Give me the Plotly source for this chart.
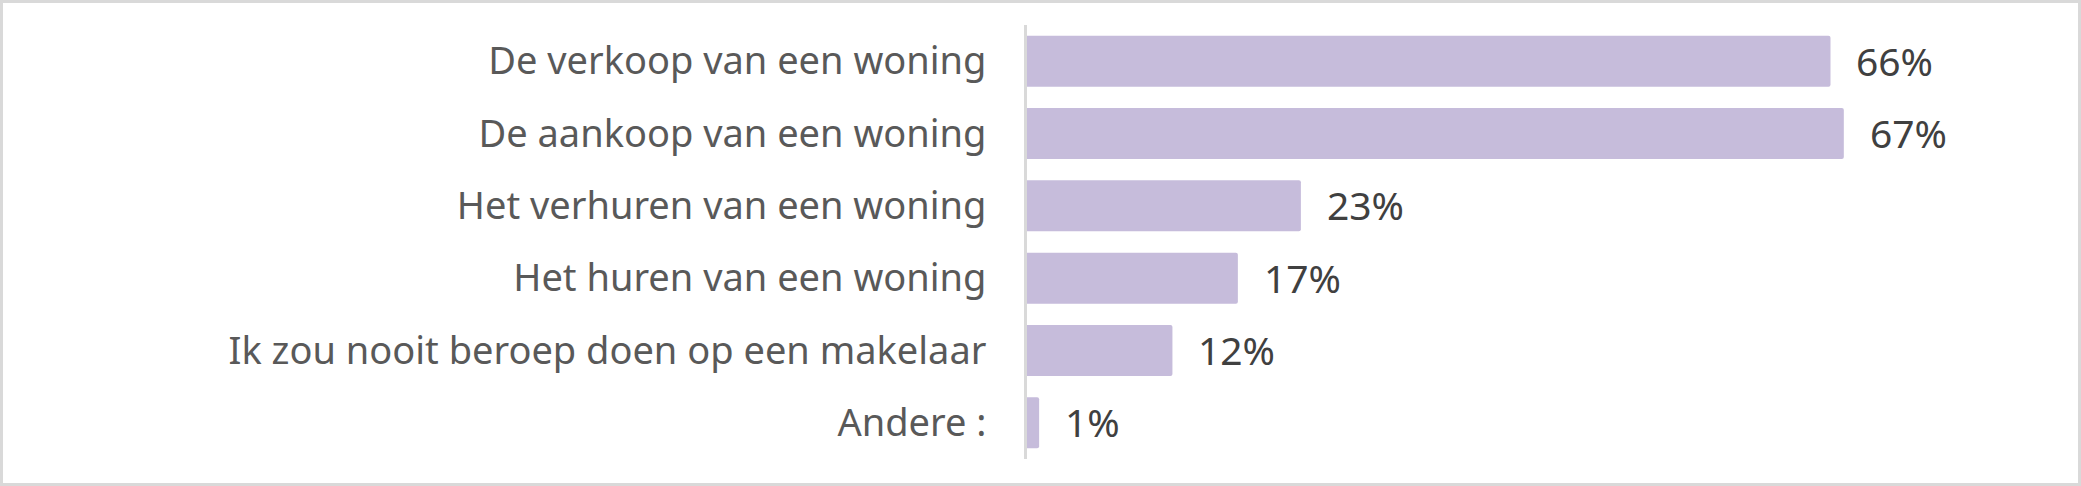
import plotly.graph_objects as go

categories = [
    "De verkoop van een woning",
    "De aankoop van een woning",
    "Het verhuren van een woning",
    "Het huren van een woning",
    "Ik zou nooit beroep doen op een makelaar",
    "Andere :",
]
values = [66.3, 67.4, 22.6, 17.4, 12.0, 1.0]
value_labels = ["66%", "67%", "23%", "17%", "12%", "1%"]

W, H = 2081, 486
L, R, T, B = 1027, 36, 25, 27
FONT = "Noto Sans, Open Sans, sans-serif"

fig = go.Figure(
    go.Bar(
        x=values,
        y=categories,
        orientation="h",
        marker=dict(color="#c6bcdb", line=dict(width=0), cornerradius=2),
        hoverinfo="skip",
    )
)

for c, v, t in zip(categories, values, value_labels):
    fig.add_annotation(
        x=v, y=c, xref="x", yref="y", text=t, showarrow=False,
        xanchor="left", yanchor="middle", xshift=24, yshift=1,
        font=dict(family=FONT, size=39, color="#404040"),
    )

pw = W - L - R
ph = H - T - B
fig.add_shape(
    type="rect", xref="paper", yref="paper",
    x0=(1.5 - L) / pw, x1=(W - 1.5 - L) / pw,
    y0=-(B - 1.5) / ph, y1=1 + (T - 1.5) / ph,
    line=dict(color="#d9d9d9", width=3), fillcolor="rgba(0,0,0,0)", layer="below",
)

fig.update_layout(
    width=W, height=H,
    margin=dict(l=L, r=R, t=T, b=B, pad=0),
    paper_bgcolor="white", plot_bgcolor="white",
    bargap=0.295,
    showlegend=False,
    xaxis=dict(range=[0, 84], visible=False, fixedrange=True),
    yaxis=dict(
        autorange="reversed",
        showline=True, linecolor="#d9d9d9", linewidth=3,
        showgrid=False, zeroline=False, ticks="",
        ticklabelstandoff=30,
        tickfont=dict(family=FONT, size=38, color="#595959"),
        fixedrange=True,
    ),
)

fig.write_html(
    "out.html",
    config={"displayModeBar": False},
    post_script="document.body.style.margin='0';document.body.style.overflow='hidden';",
)
